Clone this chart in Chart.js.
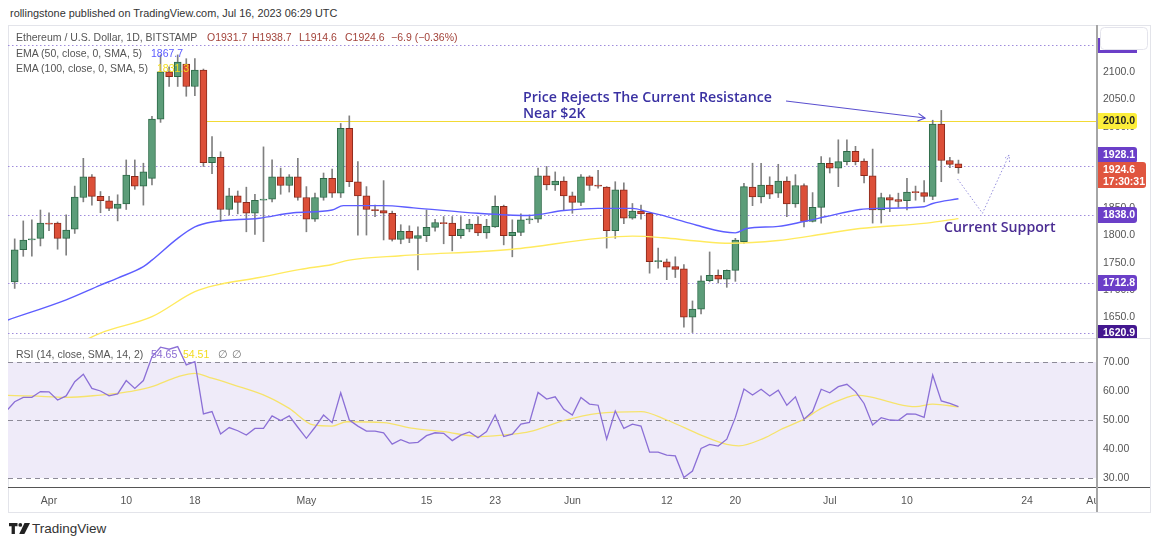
<!DOCTYPE html>
<html>
<head>
<meta charset="utf-8">
<script src="https://cdn.jsdelivr.net/npm/chart.js@4.4.0/dist/chart.umd.min.js"></script>
<style>
  body { margin:0; width:1160px; height:544px; background:#fff; position:relative; overflow:hidden;
         font-family:"Liberation Sans", Arial, sans-serif; }
  .t { position:absolute; white-space:nowrap; line-height:12px; font-size:10.5px; z-index:5; }
  .note { position:absolute; white-space:nowrap; font-family:"Open Sans", sans-serif; font-weight:600;
          font-size:14.2px; line-height:16px; z-index:5; }
  #frame { position:absolute; left:8px; top:25px; width:1143px; height:488px; border:1px solid #e3e4ea;
           box-sizing:border-box; }
  #sep { position:absolute; left:8px; top:338px; width:1142px; height:1px; background:#e3e4ea; }
  #axisline { position:absolute; left:1096px; top:25px; width:2px; height:487px; background:#a6a6a6; z-index:4; }
  canvas { position:absolute; left:0; }
</style>
</head>
<body>
<div id="frame"></div>
<canvas id="price" width="1160" height="313" style="top:25px"></canvas>
<div id="sep"></div>
<canvas id="rsi" width="1160" height="173" style="top:339px"></canvas>
<div id="axisline"></div>

<div class="t" style="left:10px;top:7px;color:#333;font-size:10.9px">rollingstone published on TradingView.com, Jul 16, 2023 06:29 UTC</div>

<div class="t" style="left:16px;top:31px;color:#555">Ethereum / U.S. Dollar, 1D, BITSTAMP</div>
<div class="t" style="left:207px;top:31px;color:#a3433a">O1931.7</div>
<div class="t" style="left:252px;top:31px;color:#a3433a">H1938.7</div>
<div class="t" style="left:299px;top:31px;color:#a3433a">L1914.6</div>
<div class="t" style="left:345px;top:31px;color:#a3433a">C1924.6</div>
<div class="t" style="left:391px;top:31px;color:#a3433a">−6.9 (−0.36%)</div>
<div class="t" style="left:16px;top:47px;color:#555">EMA (50, close, 0, SMA, 5)</div>
<div class="t" style="left:151px;top:47px;color:#5a5aff">1867.7</div>
<div class="t" style="left:16px;top:62px;color:#555">EMA (100, close, 0, SMA, 5)</div>
<div class="t" style="left:157px;top:62px;color:#f3dc1e">1831.3</div>
<div class="t" style="left:16px;top:348px;color:#555">RSI (14, close, SMA, 14, 2)</div>
<div class="t" style="left:151px;top:348px;color:#8a6bd1">54.65</div>
<div class="t" style="left:183px;top:348px;color:#f3dc1e">54.51</div>
<div class="t" style="left:218px;top:348px;color:#777">∅</div>
<div class="t" style="left:232px;top:348px;color:#777">∅</div>

<div class="note" style="left:523px;top:89px;color:#3a31a2">Price Rejects The Current Resistance<br>Near $2K</div>
<div class="note" style="left:944px;top:219px;color:#4b2d93">Current Support</div>

<svg style="position:absolute;left:9px;top:523px" width="22" height="11" viewBox="0 0 22 11">
  <path d="M0 0h8.5v3.2h-2.6v7.8h-3.3v-7.8h-2.6z" fill="#222"/>
  <circle cx="11.3" cy="1.9" r="1.9" fill="#222"/>
  <path d="M15.5 0h5.5l-5.6 11h-5.2z" fill="#222"/>
</svg>
<div class="t" style="left:32px;top:521px;color:#333;font-size:13.5px;line-height:15px">TradingView</div>

<script>
// daily candles, day index 0 = Apr 1 2023 (first candle Mar 28 = -4)
var firstDay = -4;
var opens = [1715,1774,1792,1795,1823,1823,1795,1812,1870,1908,
  1872,1864,1850,1858,1909,1891,1905,2014,2101,2092,
  2115,2074,2104,1934,1944,1848,1873,1861,1841,1865,
  1867,1908,1892,1908,1870,1830,1870,1905,1878,1997,
  1899,1873,1848,1846,1841,1793,1808,1795,1800,1815,
  1824,1823,1800,1812,1821,1805,1816,1854,1800,1806,
  1829,1830,1910,1893,1900,1873,1861,1908,1893,1889,
  1809,1884,1832,1845,1841,1752,1752,1743,1739,1650,
  1665,1717,1727,1720,1736,1789,1889,1871,1893,1878,
  1900,1858,1892,1826,1852,1933,1924,1936,1955,1937,
  1910,1847,1870,1866,1864,1881,1879,1872,2005,1938,1931.7];
var highs = [1794,1827,1829,1847,1842,1825,1838,1891,1942,1912,
  1881,1872,1875,1939,1939,1933,2019,2132,2110,2132,
  2125,2125,2106,1982,1954,1887,1882,1889,1876,1963,
  1939,1924,1912,1942,1890,1878,1915,1922,2006,2020,
  1936,1890,1856,1901,1845,1820,1818,1816,1847,1830,
  1835,1835,1835,1830,1835,1830,1873,1856,1829,1840,
  1838,1924,1927,1917,1908,1880,1912,1910,1920,1890,
  1899,1897,1859,1856,1841,1777,1757,1761,1747,1680,
  1726,1770,1737,1737,1795,1896,1933,1933,1908,1931,
  1908,1912,1895,1879,1945,1943,1976,1976,1964,1941,
  1959,1878,1875,1878,1905,1891,1901,2012,2030,1944,1938.7];
var lows = [1703,1762,1762,1781,1809,1775,1764,1804,1862,1856,
  1842,1846,1827,1848,1885,1856,1893,2008,2074,2074,
  2056,2057,1927,1914,1826,1838,1840,1807,1802,1789,
  1862,1876,1880,1865,1807,1826,1865,1870,1870,1890,
  1801,1801,1835,1792,1790,1785,1787,1737,1789,1808,
  1785,1772,1795,1807,1800,1795,1815,1783,1761,1800,
  1822,1824,1884,1883,1847,1841,1855,1883,1887,1777,
  1795,1822,1830,1830,1731,1740,1719,1723,1632,1622,
  1656,1715,1713,1705,1716,1786,1855,1860,1868,1870,
  1835,1852,1816,1825,1823,1915,1890,1930,1930,1897,
  1823,1823,1844,1852,1847,1865,1862,1866,1899,1925,1914.6];
var closes = [1774,1792,1794,1823,1821,1795,1810,1871,1908,1872,
  1864,1850,1858,1911,1891,1917,2014,2101,2092,2119,
  2074,2104,1934,1944,1848,1873,1861,1841,1865,1867,
  1908,1892,1908,1870,1830,1870,1905,1878,1997,1899,
  1873,1848,1846,1841,1793,1808,1795,1800,1815,1824,
  1822,1800,1812,1821,1805,1817,1854,1800,1806,1829,
  1831,1910,1893,1900,1873,1861,1908,1892,1891,1809,
  1884,1832,1845,1840,1752,1754,1742,1738,1650,1665,
  1717,1727,1720,1736,1792,1890,1871,1893,1876,1900,
  1858,1892,1826,1852,1933,1924,1936,1955,1936,1910,
  1847,1870,1865,1863,1880,1879,1872,2005,1938,1931,1924.6];

// moving averages
var ema50Days   = [-4.8,2,6,8,11,12,15,17,19,24.5,28.5,33,34.3,39,42.5,50,55.7,60,64,68,69.7,72,75.5,78.6,80,81.3,85,88,90.6,94.5,96.5,102,103,106];
var ema50Values = [1645,1682,1709,1722,1743,1755,1795,1816,1825,1832,1842,1847,1855,1855,1851,1841,1837,1846,1850,1850,1844,1835,1819,1807,1805,1813,1817,1826,1835,1848,1850,1853,1859,1867.7];
var ema100Days   = [3,6,12,17,19.5,24.5,29.3,33,35,41,54,64,68,71.6,75.5,79.4,85,88.7,94.5,102.3,106];
var ema100Values = [1598,1621,1651,1697,1709,1723,1738,1747,1755,1763,1775,1795,1799,1796,1790,1786,1791,1799,1813,1823,1831.3];

// RSI, first value on day -5
var rsiFirstDay = -5;
var rsiValues = [53,56.3,57.8,57.8,59.8,59.7,56.9,58.3,63.2,65.8,
  60.9,60.0,58.3,59.0,63.6,60.9,63.6,71.8,75.1,74.4,
  75.3,69.0,70.1,52.1,52.9,45.2,47.4,46.3,44.8,47.1,
  47.1,51.4,49.8,51.4,47.5,43.7,47.5,51.7,49.1,59.4,
  50.0,47.9,46.2,46.2,45.6,41.7,43.2,42.0,42.3,44.6,
  45.6,45.4,42.9,44.8,45.9,43.9,46.0,51.7,44.3,45.1,
  48.6,49.2,59.5,57.2,58.0,53.7,51.7,57.8,55.5,55.1,
  43.4,53.1,47.1,48.6,47.9,38.9,38.9,37.9,37.6,30.2,
  32.4,40.2,41.6,41.0,43.4,50.9,60.7,58.6,60.6,58.3,
  60.3,55.1,58.0,50.3,52.9,60.6,59.4,61.5,62.3,59.8,
  55.7,48.3,50.8,50.0,49.9,52.1,52.0,50.9,65.5,56.6,55.7,54.65];
var rsiSmaDays   = [-5,-2,2,6,8,10,12,15,17,19,21.5,25.5,28,30.8,33,34.7,39,42.5,46,50.2,54,56,60,64,69,72,76,79,80.4,83.3,85.5,88,90,93,94,96,98.6,101,103,106];
var rsiSmaValues = [58.5,58.3,57.8,58.6,59.2,60.1,61.5,64.9,66.1,64.4,62.1,58,54,48.3,47.9,49.4,49.1,47.1,46,44.3,45.1,46,49.8,52.3,52.9,50,44.8,41.6,41.1,43.7,47,50.3,54,57.8,58.6,57.8,55.7,54.6,55.5,54.51];

// time axis
var xTickDays   = [0,9,17,30,44,52,61,72,80,91,100,114,122];
var xTickLabels = ['Apr','10','18','May','15','23','Jun','12','20','Jul','10','24','Aug'];

// drawn levels and notes
var levelValues = [2150.2, 1928.1, 1838.0, 1712.8, 1620.9];
var resistanceLevel = 2010.0;
var resistanceFromDay = 18.4;
var arrowPath = [[85.9, 2047.3], [102.1, 2016.0]];
var projectionPath = [[105.9, 1904], [108.8, 1841], [111.9, 1948]];
var lastPrice = 1924.6;
var countdown = '17:30:31';

var xMin = -4.78, xMax = 122.15;
var priceMin = 1611.9, priceMax = 2186.9;
var rsiMin = 26.9, rsiMax = 77.93;

Chart.defaults.font.family = '"Liberation Sans", Arial, sans-serif';
Chart.defaults.color = '#555';

var days = opens.map(function(o, i) { return firstDay + i; });
var isUp = function(i) { return closes[i] >= opens[i]; };

// no extra room for labels, the panes fill their canvases
function fitRight(s) { s.width = 53; s.paddingTop = 0; s.paddingBottom = 0; }

function chevron(ctx, x0, y0, x1, y1, len) {
  var ang = Math.atan2(y1 - y0, x1 - x0);
  ctx.beginPath();
  ctx.moveTo(x1 - len * Math.cos(ang - 0.5), y1 - len * Math.sin(ang - 0.5));
  ctx.lineTo(x1, y1);
  ctx.lineTo(x1 - len * Math.cos(ang + 0.5), y1 - len * Math.sin(ang + 0.5));
  ctx.stroke();
}

function tag(ctx, yc, w, fill, txt, color) {
  ctx.fillStyle = fill;
  ctx.beginPath();
  ctx.roundRect(1097, Math.round(yc) - 8, w, 16, [0, 3, 3, 0]);
  ctx.fill();
  ctx.fillStyle = color;
  ctx.font = 'bold 10.5px "Liberation Sans", Arial, sans-serif';
  ctx.textBaseline = 'middle';
  ctx.textAlign = 'left';
  ctx.fillText(txt, 1103, Math.round(yc) + 0.5);
}

var priceOverlay = {
  id: 'priceOverlay',
  beforeDatasetsDraw: function(chart) {
    var ctx = chart.ctx, a = chart.chartArea, x = chart.scales.x, y = chart.scales.y;
    ctx.save();
    ctx.lineWidth = 1;
    ctx.strokeStyle = '#9f8bdc';
    ctx.setLineDash([1.5, 2.5]);
    levelValues.forEach(function(v) {
      var py = Math.round(y.getPixelForValue(v)) + 0.5;
      ctx.beginPath(); ctx.moveTo(a.left, py); ctx.lineTo(a.right, py); ctx.stroke();
    });
    ctx.setLineDash([]);
    // resistance line, drawn as a crisp 1px yellow row
    ctx.fillStyle = '#f2da35';
    var ry = Math.round(y.getPixelForValue(resistanceLevel));
    var rx = x.getPixelForValue(resistanceFromDay);
    ctx.fillRect(rx, ry, a.right - rx, 1);
    ctx.restore();
  },
  afterDraw: function(chart) {
    var ctx = chart.ctx, x = chart.scales.x, y = chart.scales.y;
    ctx.save();
    // arrow to the resistance
    var p0 = [x.getPixelForValue(arrowPath[0][0]), y.getPixelForValue(arrowPath[0][1])];
    var p1 = [x.getPixelForValue(arrowPath[1][0]), y.getPixelForValue(arrowPath[1][1])];
    ctx.strokeStyle = '#5a4fcf';
    ctx.lineWidth = 1.2;
    ctx.beginPath(); ctx.moveTo(p0[0], p0[1]); ctx.lineTo(p1[0], p1[1]); ctx.stroke();
    chevron(ctx, p0[0], p0[1], p1[0], p1[1], 8);
    // dotted projection
    var pts = projectionPath.map(function(p) { return [x.getPixelForValue(p[0]), y.getPixelForValue(p[1])]; });
    ctx.strokeStyle = '#9791dd';
    ctx.lineWidth = 1;
    ctx.setLineDash([1.5, 2]);
    ctx.beginPath();
    pts.forEach(function(p, i) { if (i) ctx.lineTo(p[0], p[1]); else ctx.moveTo(p[0], p[1]); });
    ctx.stroke();
    chevron(ctx, pts[1][0], pts[1][1], pts[2][0], pts[2][1], 7);
    ctx.setLineDash([]);
    // price scale tags; the 1928.1 tag is pushed up above the live price tag
    tag(ctx, y.getPixelForValue(resistanceLevel), 40, '#fcee3a', resistanceLevel.toFixed(1), '#222');
    tag(ctx, y.getPixelForValue(levelValues[1]) - 11, 40, '#6b3fc8', levelValues[1].toFixed(1), '#fff');
    tag(ctx, y.getPixelForValue(levelValues[2]), 40, '#6b3fc8', levelValues[2].toFixed(1), '#fff');
    tag(ctx, y.getPixelForValue(levelValues[3]), 40, '#6b3fc8', levelValues[3].toFixed(1), '#fff');
    tag(ctx, y.getPixelForValue(levelValues[4]), 40, '#43178f', levelValues[4].toFixed(1), '#fff');
    var ly = Math.round(y.getPixelForValue(lastPrice));
    ctx.fillStyle = '#e0553f';
    ctx.beginPath(); ctx.roundRect(1097, ly - 6, 49, 26, [0, 3, 3, 0]); ctx.fill();
    ctx.fillStyle = '#fff';
    ctx.font = 'bold 10.5px "Liberation Sans", Arial, sans-serif';
    ctx.textBaseline = 'middle';
    ctx.fillText(lastPrice.toFixed(1), 1103, ly + 2);
    ctx.fillText(countdown, 1103, ly + 14);
    // top right widget covering the top level tag
    ctx.fillStyle = '#6b3fc8';
    ctx.fillRect(1097, 13, 3, 14);
    ctx.fillRect(1097, 25, 40, 3);
    ctx.fillStyle = '#fff';
    ctx.strokeStyle = '#e4e4ec';
    ctx.beginPath(); ctx.roundRect(1100.5, 2.5, 47, 22, 4); ctx.fill(); ctx.stroke();
    ctx.restore();
  }
};

new Chart(document.getElementById('price'), {
  type: 'bar',
  data: {
    datasets: [
      { type: 'line', label: 'EMA 50', order: 0,
        data: ema50Days.map(function(d, i) { return { x: d, y: ema50Values[i] }; }),
        borderColor: '#5d5dff', borderWidth: 1.4, pointRadius: 0, cubicInterpolationMode: 'monotone' },
      { type: 'line', label: 'EMA 100', order: 0,
        data: ema100Days.map(function(d, i) { return { x: d, y: ema100Values[i] }; }),
        borderColor: '#ffea5e', borderWidth: 1.4, pointRadius: 0, cubicInterpolationMode: 'monotone' },
      { label: 'Bodies', order: 1, grouped: false, barThickness: 7, borderWidth: 1, borderSkipped: false,
        data: days.map(function(d, i) { return { x: d, y: [opens[i], closes[i]] }; }),
        backgroundColor: function(c) { return isUp(c.dataIndex) ? '#5c9d79' : '#dc4f38'; },
        borderColor: function(c) { return isUp(c.dataIndex) ? '#2c6947' : '#8a2a1c'; } },
      { label: 'Wicks', order: 2, grouped: false, barThickness: 1, borderWidth: 0,
        data: days.map(function(d, i) { return { x: d, y: [lows[i], highs[i]] }; }),
        backgroundColor: '#808080' }
    ]
  },
  options: {
    responsive: false,
    animation: false,
    layout: { padding: { left: 8, right: 10, top: 0, bottom: 0 } },
    plugins: { legend: { display: false }, tooltip: { enabled: false } },
    scales: {
      x: { type: 'linear', min: xMin, max: xMax, offset: false, display: false },
      y: { position: 'right', min: priceMin, max: priceMax,
           grid: { display: false, drawTicks: false }, border: { display: false },
           ticks: { stepSize: 50, includeBounds: false, padding: 6, color: '#555', font: { size: 10.5 },
                    callback: function(v) { return v.toFixed(1); } },
           afterFit: fitRight }
    }
  },
  plugins: [priceOverlay]
});

var rsiOverlay = {
  id: 'rsiOverlay',
  beforeDatasetsDraw: function(chart) {
    var ctx = chart.ctx, a = chart.chartArea, y = chart.scales.y;
    var top = y.getPixelForValue(70), bot = y.getPixelForValue(30);
    ctx.save();
    ctx.fillStyle = '#efebf9';
    ctx.fillRect(a.left, top, a.right - a.left, bot - top);
    ctx.strokeStyle = '#8d8b98';
    ctx.lineWidth = 1;
    ctx.setLineDash([5, 4]);
    [70, 50, 30].forEach(function(v) {
      var py = Math.round(y.getPixelForValue(v)) + 0.5;
      ctx.beginPath(); ctx.moveTo(a.left, py); ctx.lineTo(a.right, py); ctx.stroke();
    });
    ctx.restore();
  },
  afterDraw: function(chart) {
    var ctx = chart.ctx, a = chart.chartArea;
    ctx.save();
    ctx.fillStyle = '#fff';
    ctx.fillRect(1098, a.bottom + 1, 51, chart.height - a.bottom - 2);
    ctx.fillStyle = '#555';
    ctx.fillRect(8, Math.round(a.bottom), 1142, 1);
    ctx.restore();
  }
};

new Chart(document.getElementById('rsi'), {
  type: 'line',
  data: {
    datasets: [
      { label: 'RSI', data: rsiValues.map(function(v, i) { return { x: rsiFirstDay + i, y: v }; }),
        borderColor: '#8b6fd6', borderWidth: 1.3, pointRadius: 0, tension: 0 },
      { label: 'RSI SMA', data: rsiSmaDays.map(function(d, i) { return { x: d, y: rsiSmaValues[i] }; }),
        borderColor: '#f6e36c', borderWidth: 1.3, pointRadius: 0, cubicInterpolationMode: 'monotone' }
    ]
  },
  options: {
    responsive: false,
    animation: false,
    layout: { padding: { left: 8, right: 10, top: 0, bottom: 0 } },
    plugins: { legend: { display: false }, tooltip: { enabled: false } },
    scales: {
      x: { type: 'linear', min: xMin, max: xMax, offset: false,
           grid: { display: false, drawTicks: false }, border: { display: false },
           afterBuildTicks: function(s) { s.ticks = xTickDays.map(function(v) { return { value: v }; }); },
           ticks: { autoSkip: false, maxRotation: 0, padding: 8, color: '#555', font: { size: 10.5 },
                    callback: function(v, i) { return xTickLabels[i]; } },
           afterFit: function(s) { s.height = 25; s.paddingLeft = 0; s.paddingRight = 0; } },
      y: { position: 'right', min: rsiMin, max: rsiMax,
           grid: { display: false, drawTicks: false }, border: { display: false },
           ticks: { stepSize: 10, includeBounds: false, padding: 6, color: '#555', font: { size: 10.5 },
                    callback: function(v) { return v.toFixed(2); } },
           afterFit: fitRight }
    }
  },
  plugins: [rsiOverlay]
});
</script>
</body>
</html>
